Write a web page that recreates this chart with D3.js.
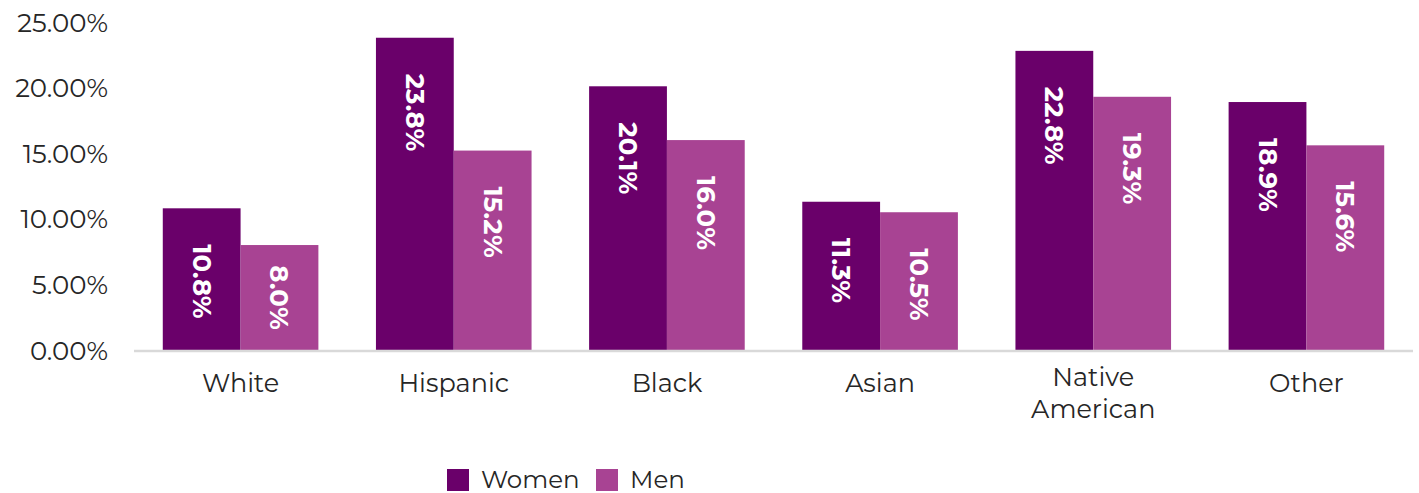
<!DOCTYPE html>
<html><head><meta charset="utf-8">
<script src="https://cdn.jsdelivr.net/npm/d3@7"></script>
<style>body{margin:0;background:#fff}svg{display:block}</style>
</head><body>
<svg id="c" width="1419" height="493"></svg>
<script>
const categories = ["White","Hispanic","Black","Asian","Native American","Other"];
const women = [10.8, 23.8, 20.1, 11.3, 22.8, 18.9];
const men = [8.0, 15.2, 16.0, 10.5, 19.3, 15.6];
const seriesNames = ["Women","Men"];
const colors = ["#6a006a","#a84393"];
const yTicks = [0,5,10,15,20,25];

const svg = d3.select("#c");
const font = "Montserrat, 'Open Sans', sans-serif";
const x = d3.scaleBand().domain(categories).range([134,1413]).paddingInner(0.27).paddingOuter(0.135);
const xs = d3.scaleBand().domain(seriesNames).range([0,x.bandwidth()]);
const y = d3.scaleLinear().domain([0,25]).range([350,22]);

const yAxis = d3.axisLeft(y).tickValues(yTicks).tickFormat(d=>d3.format(".2f")(d)+"%").tickSize(0).tickPadding(0);
const ga = svg.append("g").attr("transform","translate(108,0)").call(yAxis);
ga.select(".domain").remove();
ga.selectAll("text").attr("font-family",font).attr("font-size",26).attr("fill","#262626").attr("dy","0.35em");

const data = categories.map((c,i)=>({c, vals:[women[i],men[i]]}));
const g = svg.append("g");
data.forEach(d=>{
  d.vals.forEach((v,j)=>{
    const bx = x(d.c)+xs(seriesNames[j]);
    g.append("rect").attr("x",bx).attr("y",y(v)).attr("width",xs.bandwidth()).attr("height",y(0)-y(v)).attr("fill",colors[j]);
  });
});
svg.append("line").attr("x1",134).attr("x2",1413).attr("y1",y(0)+1).attr("y2",y(0)+1).attr("stroke","#d9d9d9").attr("stroke-width",2.5);

data.forEach(d=>{
  d.vals.forEach((v,j)=>{
    const cx = x(d.c)+xs(seriesNames[j])+xs.bandwidth()/2;
    const t = svg.append("text").text(v.toFixed(1)+"%")
      .attr("font-family",font).attr("font-weight","bold").attr("font-size",26).attr("fill","#fff")
      .attr("dominant-baseline","central");
    const len = t.node().getComputedTextLength();
    let start = y(v)+36;
    if (start+len > y(0)-28) start = (y(v)+y(0))/2 - len/2;
    t.attr("transform",`translate(${cx},${start}) rotate(90)`);
  });
});

data.forEach(d=>{
  const cx = x(d.c)+x.bandwidth()/2;
  const words = d.c==="Native American" ? ["Native","American"] : [d.c];
  words.forEach((w,k)=>{
    svg.append("text").text(w).attr("x",cx).attr("y", words.length>1 ? 386+k*32 : 392)
      .attr("text-anchor","middle").attr("font-family",font).attr("font-size",25.5).attr("fill","#262626");
  });
});

const lg = svg.append("g");
const legendItems = [{n:"Women",x:447},{n:"Men",x:596}];
legendItems.forEach((it,i)=>{
  lg.append("rect").attr("x",it.x).attr("y",469).attr("width",22).attr("height",22).attr("fill",colors[i]);
  lg.append("text").text(it.n).attr("x",it.x+34).attr("y",488).attr("font-family",font).attr("font-size",24.5).attr("fill","#262626");
});
</script>
</body></html>
